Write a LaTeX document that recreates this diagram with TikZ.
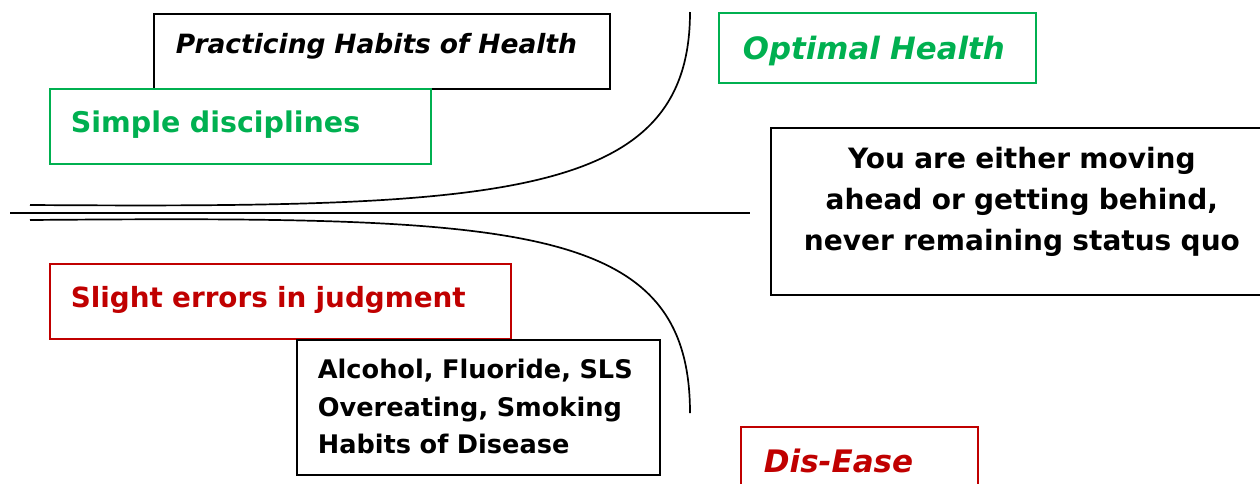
\documentclass[tikz,border=0pt]{standalone}
\usepackage{fontspec}
\setmainfont{DejaVu Sans}
\usepackage{tikz}
\usepackage{xcolor}
\definecolor{hgreen}{HTML}{00B050}
\definecolor{hred}{HTML}{C00000}

\begin{document}
\begin{tikzpicture}[x=1pt, y=-1pt,
    habit/.style={draw,line width=1.8pt,anchor=north west,inner ysep=0pt,align=left},
    goodbox/.style={habit,draw=hgreen,text=hgreen},
    badbox/.style={habit,draw=hred,text=hred},
    plainbox/.style={habit,draw=black,text=black},
    trend/.style={line width=1.7pt}]
        \useasboundingbox (0,0) rectangle (1260,483);
        \clip (0,0) rectangle (1260,483);
        % upper side: towards health
        \node at (153,13) [plainbox,inner xsep=22pt,text width=412pt,text height=40pt,text depth=35pt,font=\fontsize{26.5}{32}\selectfont\bfseries\itshape] (habits) {Practicing Habits of Health};
        \node at (49,88) [goodbox,inner xsep=21pt,text width=339pt,text height=44pt,text depth=31pt,font=\fontsize{28.5}{34}\selectfont\bfseries] (simple) {Simple disciplines};
        \node at (718,12) [goodbox,inner xsep=24pt,text width=269pt,text height=47pt,text depth=23pt,font=\fontsize{30.8}{36}\selectfont\bfseries\itshape] (optimal) {Optimal Health};
        % middle
        \node at (770,127) [plainbox,inner xsep=0pt,text width=502pt,align=center,text height=41pt,text depth=126pt,font=\fontsize{28}{41}\selectfont\bfseries] (quo) {You are either moving\\ahead or getting behind,\\never remaining status quo};
        % lower side: towards disease
        \node at (49,263) [badbox,inner xsep=21pt,text width=419pt,text height=44pt,text depth=31pt,font=\fontsize{27.8}{33}\selectfont\bfseries] (errors) {Slight errors in judgment};
        \node at (296,339) [plainbox,inner xsep=21pt,text width=321pt,text height=39pt,text depth=96pt,font=\fontsize{25.6}{37.5}\selectfont\bfseries] (disease) {Alcohol, Fluoride, SLS\\Overeating, Smoking\\Habits of Disease};
        \node at (740,426) [badbox,inner xsep=23pt,text width=191pt,text height=46pt,text depth=34pt,font=\fontsize{31}{36}\selectfont\bfseries\itshape] (dis) {Dis-Ease};
        % the three lines
        \coordinate (up0) at (30,205);
        \coordinate (up1) at (690,12);
        \coordinate (down0) at (30,220);
        \coordinate (down1) at (690,413);
        \coordinate (mid0) at (10,213);
        \coordinate (mid1) at (750,213);
        \draw[trend] (up0) .. controls (500,208) and (690,200) .. (up1);
        \draw[trend] (down0) .. controls (520,216) and (690,222) .. (down1);
        \draw[line width=1.4pt] (mid0) -- (mid1);
    \end{tikzpicture}
\end{document}
